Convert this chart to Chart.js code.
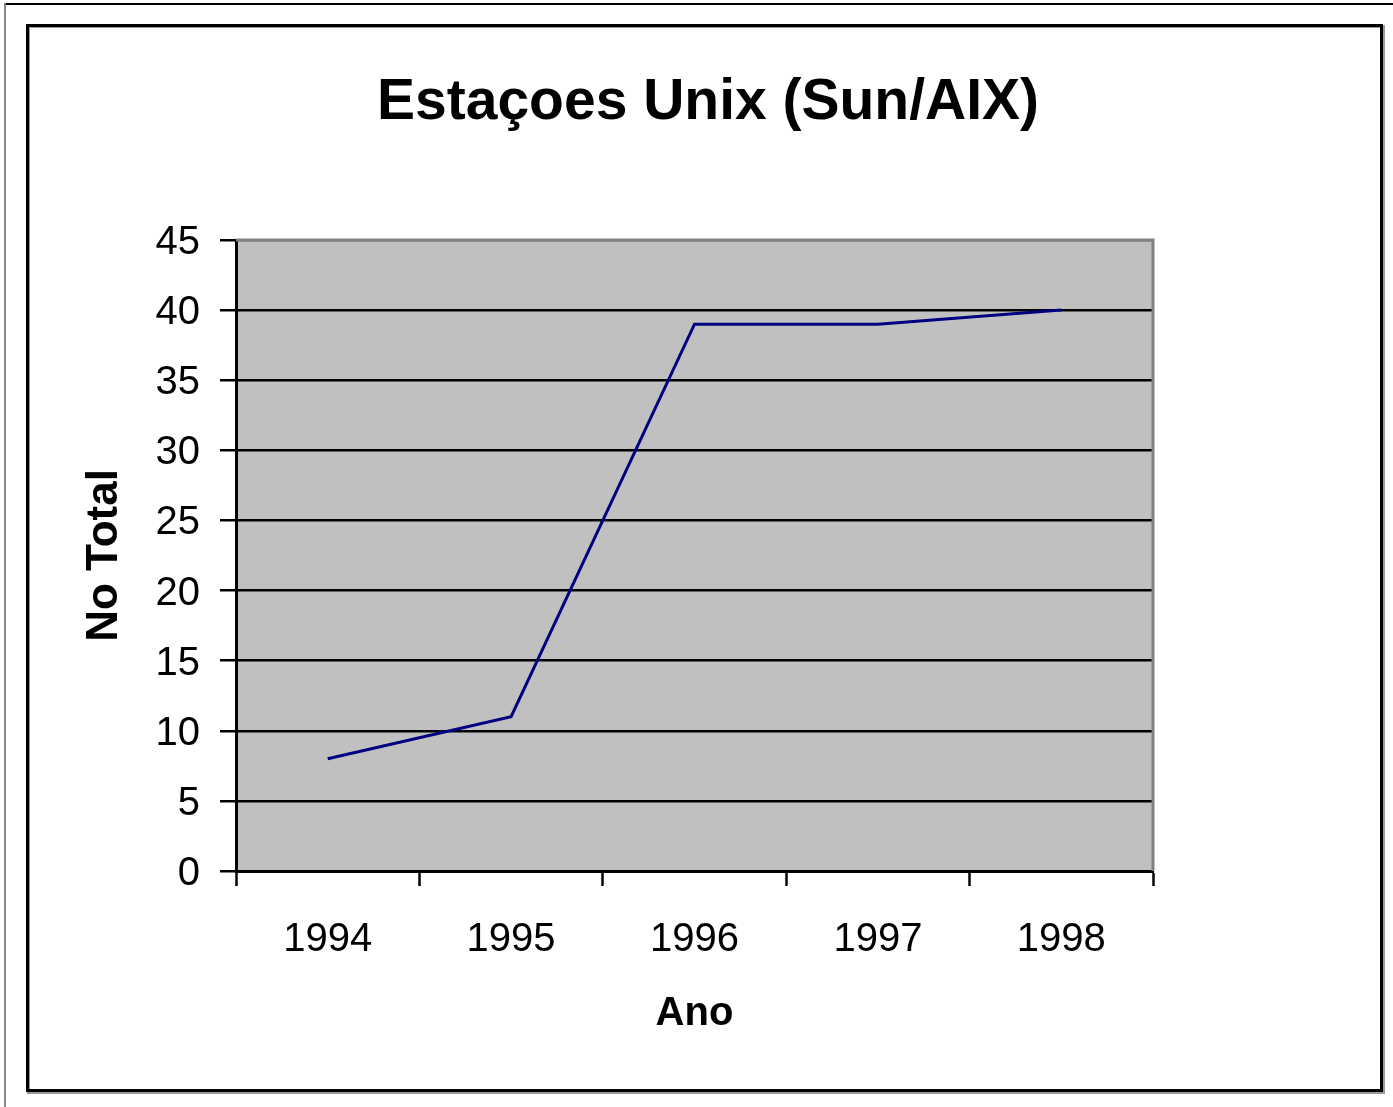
<!DOCTYPE html>
<html>
<head>
<meta charset="utf-8">
<script src="https://cdn.jsdelivr.net/npm/chart.js@4"></script>
<style>
  html, body { margin: 0; padding: 0; background: #fff; }
  #wrap { position: relative; width: 1393px; height: 1107px; }
  canvas { display: block; }
</style>
</head>
<body>
<div id="wrap"><canvas id="c" width="1393" height="1107"></canvas></div>
<script>
const chartTitle = 'Estaçoes Unix (Sun/AIX)';
const xTitle = 'Ano';
const yTitle = 'No Total';
const categories = ['1994', '1995', '1996', '1997', '1998'];
const totals = [8, 11, 39, 39, 40];
const yMin = 0, yMax = 45, yStep = 5;

const FONT = 'Liberation Sans, Arial, sans-serif';

const frame = {
  id: 'frame',
  beforeDraw(chart) {
    const ctx = chart.ctx;
    const a = chart.chartArea;
    ctx.save();
    ctx.fillStyle = '#fff';
    ctx.fillRect(0, 0, chart.width, chart.height);
    // page edge lines
    ctx.fillStyle = '#000';
    ctx.fillRect(5, 3, 1388, 2);
    ctx.fillStyle = '#888';
    ctx.fillRect(4, 3, 2, 1104);
    // outer border with shadow
    ctx.strokeStyle = '#999';
    ctx.lineWidth = 3;
    ctx.strokeRect(28.5, 26.5, 1355, 1066);
    ctx.strokeStyle = '#000';
    ctx.strokeRect(27.5, 25.5, 1354, 1065);
    // plot area fill
    ctx.fillStyle = '#C0C0C0';
    ctx.fillRect(a.left, a.top, a.right - a.left, a.bottom - a.top);
    // chart title
    ctx.fillStyle = '#000';
    ctx.font = 'bold 57px ' + FONT;
    ctx.textAlign = 'center';
    ctx.textBaseline = 'alphabetic';
    ctx.fillText(chartTitle, 708, 119);
    ctx.restore();
  },
  beforeDatasetsDraw(chart) {
    const ctx = chart.ctx;
    const a = chart.chartArea;
    ctx.save();
    ctx.strokeStyle = '#808080';
    ctx.lineWidth = 3;
    ctx.beginPath();
    ctx.moveTo(a.left, a.top);
    ctx.lineTo(a.right, a.top);
    ctx.lineTo(a.right, a.bottom);
    ctx.stroke();
    ctx.restore();
  }
};

new Chart(document.getElementById('c'), {
  type: 'line',
  data: {
    labels: categories,
    datasets: [{
      data: totals,
      borderColor: '#000080',
      borderWidth: 3,
      pointRadius: 0,
      tension: 0,
      fill: false
    }]
  },
  plugins: [frame],
  options: {
    responsive: false,
    animation: false,
    layout: { padding: { top: 240, left: 70, right: 240, bottom: 40 } },
    plugins: {
      legend: { display: false },
      tooltip: { enabled: false },
      title: { display: false }
    },
    scales: {
      x: {
        offset: true,
        afterFit(s) { s.height = 196; },
        grid: {
          offset: true,
          drawOnChartArea: false,
          drawTicks: true,
          tickLength: 15,
          tickColor: '#000',
          tickWidth: 2.5,
          color: '#000'
        },
        border: { display: true, color: '#000', width: 3 },
        ticks: {
          color: '#000',
          padding: 30,
          maxRotation: 0,
          font: { family: FONT, size: 40, lineHeight: 1.2 }
        },
        title: {
          display: true,
          text: xTitle,
          color: '#000',
          font: { family: FONT, size: 40, weight: 'bold', lineHeight: 1.2 },
          padding: { top: 0, bottom: 29 }
        }
      },
      y: {
        min: yMin,
        max: yMax,
        afterFit(s) { s.width = 166; },
        grid: {
          drawTicks: true,
          tickLength: 16,
          tickColor: '#000',
          tickWidth: 2.5,
          lineWidth: 2.5,
          color: (c) => (c.tick && c.tick.value === yMax) ? '#808080' : '#000'
        },
        border: { display: true, color: '#000', width: 3 },
        ticks: {
          stepSize: yStep,
          color: '#000',
          padding: 20,
          labelOffset: 3,
          font: { family: FONT, size: 40, lineHeight: 1.2 }
        },
        title: {
          display: true,
          text: yTitle,
          color: '#000',
          font: { family: FONT, size: 44, weight: 'bold', lineHeight: 1.2 },
          padding: { top: 8.6, bottom: 0 }
        }
      }
    }
  }
});
</script>
</body>
</html>
